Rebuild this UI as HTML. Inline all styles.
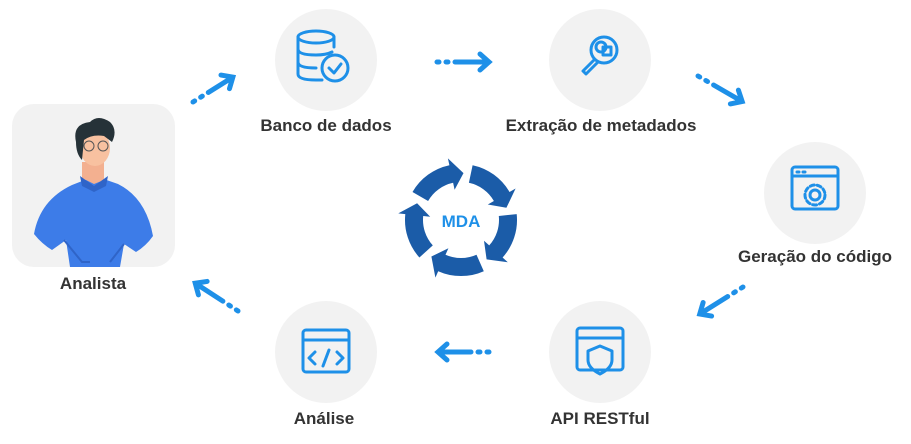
<!DOCTYPE html>
<html><head><meta charset="utf-8"><style>
body{margin:0;background:#fff;width:911px;height:439px;overflow:hidden;font-family:"Liberation Sans",sans-serif}
</style></head><body>
<svg width="911" height="439" viewBox="0 0 911 439" xmlns="http://www.w3.org/2000/svg">
<g fill="#f2f2f2">
<rect x="12" y="104" width="163" height="163" rx="22"/>
<circle cx="326" cy="60" r="51"/>
<circle cx="600" cy="60" r="51"/>
<circle cx="815" cy="193" r="51"/>
<circle cx="600" cy="352" r="51"/>
<circle cx="326" cy="352" r="51"/>
</g>
<!-- person -->
<g>
<path d="M70 267 L66 240 L52 250 Q42 244 34 234 Q40 200 72 185 L95 176 L118 184 Q146 198 153 236 Q146 246 136 252 L124 244 L120 267 Z" fill="#3d7ce8"/>
<path d="M64 240 L82 262 L90 262" fill="none" stroke="#2f64c8" stroke-width="2"/>
<path d="M124 244 L110 262" fill="none" stroke="#2f64c8" stroke-width="2"/>
<path d="M82 162 L104 162 L104 180 L94 184 L82 178 Z" fill="#f3b090"/>
<path d="M80 176 L94 186 L108 176 L106 186 L94 192 L82 186Z" fill="#2f64c8"/>
<ellipse cx="95" cy="148" rx="15" ry="18" fill="#f8c1a0"/>
<path d="M76 142 Q72 124 90 122 Q98 114 110 122 Q118 130 112 142 L104 136 Q92 134 84 140 L82 160 Q76 154 76 142Z" fill="#263238"/>
<circle cx="89" cy="146" r="5" fill="none" stroke="#555" stroke-width="1"/>
<circle cx="103" cy="146" r="5" fill="none" stroke="#555" stroke-width="1"/>
</g>
<g font-weight="bold" font-size="17" fill="#333" text-anchor="middle">
<text x="93" y="289">Analista</text>
<text x="326" y="131">Banco de dados</text>
<text x="601" y="131">Extração de metadados</text>
<text x="815" y="262">Geração do código</text>
<text x="600" y="424">API RESTful</text>
<text x="324" y="424">Análise</text>
</g>
<!-- icons -->
<g fill="none" stroke="#1e90e8" stroke-width="3" stroke-linecap="round" stroke-linejoin="round">
<ellipse cx="316" cy="37" rx="18" ry="6"/>
<path d="M298 37 V74 Q298 80 316 80 H322 M298 49 Q298 55 316 55 Q326 55 332 52 M298 62 Q298 68 316 68 M334 37 V47"/>
<circle cx="335" cy="68" r="13"/><path d="M329 68 L334 73 L341 64"/>
<circle cx="604" cy="50" r="13"/><path d="M594 60 L583 71 L586 74 L597 63"/>
<circle cx="601" cy="47" r="5"/><rect x="603" y="47" width="8" height="8"/>
<rect x="792" y="167" width="46" height="42" rx="3"/><path d="M792 176 H838 M797 172 H799 M803 172 H805"/>
<circle cx="815" cy="195" r="5"/><circle cx="815" cy="195" r="10" stroke-dasharray="4 3"/>
<rect x="577" y="328" width="46" height="42" rx="3"/><path d="M577 338 H623"/>
<path d="M600 346 L612 351 V360 Q612 368 600 374 Q588 368 588 360 V351 Z"/>
<rect x="303" y="330" width="46" height="42" rx="3"/><path d="M303 340 H349 M315 352 L309 358 L315 364 M337 352 L343 358 L337 364 M329 350 L323 366"/>
</g>
<!-- dotted arrows -->
<g stroke="#1e90e8" stroke-width="5" stroke-linecap="round" fill="none">
<g transform="translate(193,102) rotate(-32)"><path d="M0 0 H2 M9 0 H11 M18 0 H46 M38 -8 L47 0 L38 8"/></g>
<g transform="translate(437,62)"><path d="M0 0 H2 M9 0 H11 M18 0 H51 M43 -8 L52 0 L43 8"/></g>
<g transform="translate(698,76) rotate(30)"><path d="M0 0 H2 M9 0 H11 M18 0 H50 M42 -8 L51 0 L42 8"/></g>
<g transform="translate(743,287) rotate(148)"><path d="M0 0 H2 M9 0 H11 M18 0 H50 M42 -8 L51 0 L42 8"/></g>
<g transform="translate(489,352) rotate(180)"><path d="M0 0 H2 M9 0 H11 M18 0 H50 M42 -8 L51 0 L42 8"/></g>
<g transform="translate(238,311) rotate(213)"><path d="M0 0 H2 M9 0 H11 M18 0 H50 M42 -8 L51 0 L42 8"/></g>
</g>
<g id="cyc" fill="#1b5ca8"></g>
<text x="461" y="227" font-size="17" font-weight="bold" fill="#1e90e8" text-anchor="middle">MDA</text>
</svg>
<script>
var g=document.getElementById('cyc'),cx=461,cy=220,r=47,t=9;
function p(a,rr){a=a*Math.PI/180;return (cx+rr*Math.cos(a)).toFixed(1)+' '+(cy+rr*Math.sin(a)).toFixed(1);}
var s='';
for(var k=0;k<5;k++){var a0=-150+72*k,a1=a0+48,a2=a1+15;
s+='<path d="M'+p(a0,r+t)+' A'+(r+t)+' '+(r+t)+' 0 0 1 '+p(a1,r+t)+' L'+p(a1,r+t+7)+' L'+p(a2,r)+' L'+p(a1,r-t-7)+' L'+p(a1,r-t)+' A'+(r-t)+' '+(r-t)+' 0 0 0 '+p(a0,r-t)+' Z"/>';}
g.innerHTML=s;
</script>
</body></html>
